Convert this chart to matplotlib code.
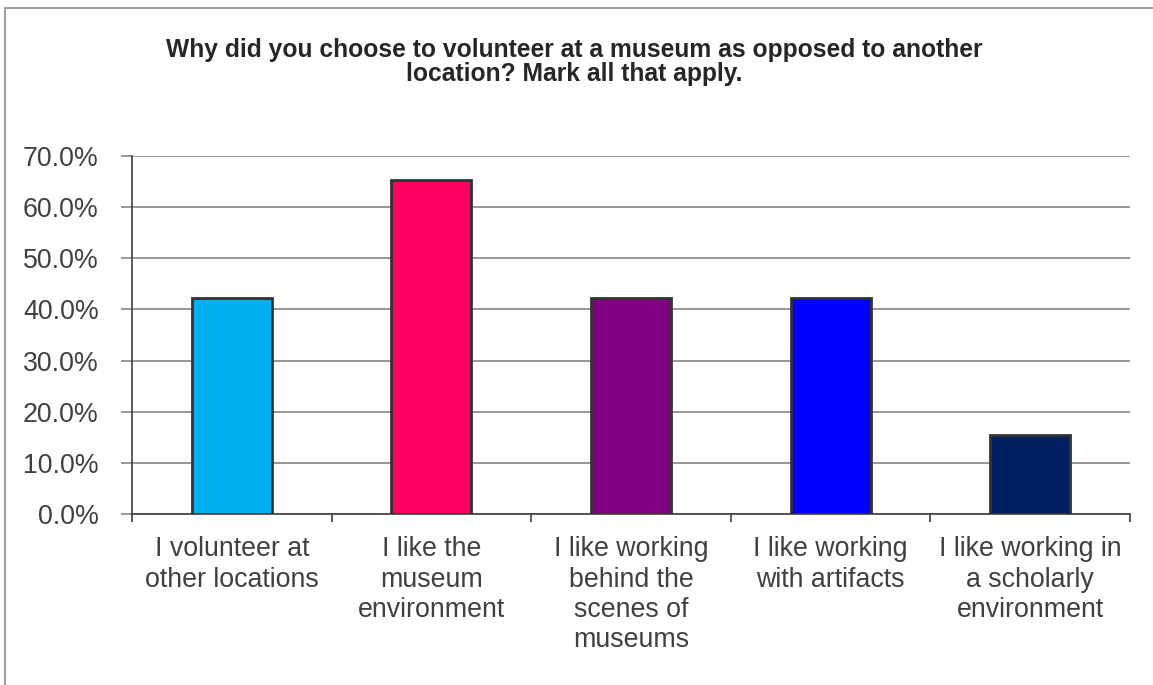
import matplotlib.pyplot as plt
import matplotlib.ticker as mticker
from matplotlib.patches import Rectangle

plt.rcParams["font.family"] = ["Liberation Sans", "DejaVu Sans"]

categories = [
    "I volunteer at\nother locations",
    "I like the\nmuseum\nenvironment",
    "I like working\nbehind the\nscenes of\nmuseums",
    "I like working\nwith artifacts",
    "I like working in\na scholarly\nenvironment",
]
percent = [42.3, 65.4, 42.3, 42.3, 15.4]
bar_colors = ["#00B0F0", "#FF0066", "#800080", "#0000FF", "#002060"]
title = ("Why did you choose to volunteer at a museum as opposed to another\n"
         "location? Mark all that apply.")

text_col = "#404040"
grid_col = "#868686"

fig = plt.figure(figsize=(11.53, 6.85), dpi=100)
fig.patch.set_facecolor("white")

# chart-area frame (runs off the right and bottom edges)
fig.patches.append(Rectangle((5 / 1153, -0.1), 1.2, 1 - 8 / 685 + 0.1,
                             transform=fig.transFigure, fill=False,
                             edgecolor="#a0a0a0", linewidth=1.5))

ax = fig.add_axes([132 / 1153, 171 / 685, (1130 - 132) / 1153, (529 - 171) / 685])

x = list(range(len(categories)))
ax.bar(x, percent, width=0.4, color=bar_colors, edgecolor="#333333",
       linewidth=2, zorder=3)

ax.set_xlim(-0.5, len(categories) - 0.5)
ax.set_ylim(0, 70)
ax.yaxis.set_major_locator(mticker.MultipleLocator(10))
ax.yaxis.set_major_formatter(mticker.FuncFormatter(lambda v, _: f"{v:.1f}%"))
ax.grid(axis="y", color=grid_col, linewidth=1.2, zorder=0)
ax.set_axisbelow(True)

# category labels centred on bars, ticks on the boundaries
ax.set_xticks(x)
ax.set_xticklabels(categories, fontsize=19.3, color=text_col, linespacing=1.22)
ax.tick_params(axis="x", length=0, pad=16)
ax.set_xticks([i - 0.5 for i in range(len(categories) + 1)], minor=True)
ax.tick_params(axis="x", which="minor", length=6, width=1.2, color="#404040",
               direction="out")
ax.tick_params(axis="y", length=8, width=1.2, color=grid_col, labelsize=19.3,
               labelcolor=text_col, pad=16)

for side in ["top", "right"]:
    ax.spines[side].set_visible(False)
for side in ["left", "bottom"]:
    ax.spines[side].set_color("#404040")
    ax.spines[side].set_linewidth(1.2)

fig.text(574 / 1153, 1 - 38 / 685, title, ha="center", va="top",
         fontsize=17.7, fontweight="bold", color="#262626", linespacing=1.0)

fig.savefig("out.png", dpi=100)
